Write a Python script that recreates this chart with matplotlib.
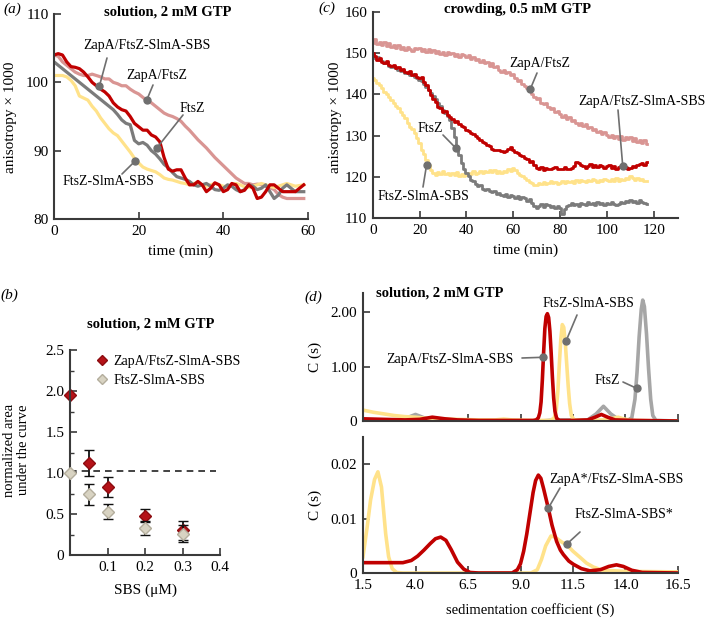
# Anisotropy kinetics, SBS titration and sedimentation velocity panels
import numpy as np
import matplotlib
matplotlib.use('Agg')
import matplotlib.pyplot as plt
from matplotlib.lines import Line2D

plt.rcParams['font.family'] = ['Liberation Serif', 'DejaVu Serif']
plt.rcParams['font.size'] = 11

# ---------------- data ----------------
# (a) solution, 2 mM GTP, anisotropy x 1000 every minute
t_a = np.arange(0, 60)
a_ftsz_sbs = [101, 101, 101, 100.8, 100.3, 99.5, 98, 97.7, 97.4, 96.5,
              95.8, 94.8, 94, 93.2, 92.6, 92.2, 91.4, 90.6, 89.8, 88.9,
              88.2, 87.6, 87.3, 87.1, 86.9, 86.5, 86, 85.8, 85.7, 85.5,
              85.3, 85.2, 85.0, 85.2, 85.3, 85, 84.8, 85, 85.2, 85,
              84.8, 84.7, 85, 85.2, 85, 84.7, 84.6, 84.8, 85, 85.2,
              85, 84.8, 84.6, 84.8, 85, 85.2, 85, 84.8, 84.9, 85]
a_ftsz = [103, 102.5, 102, 101.5, 101, 100.5, 100, 99.5, 99, 98.5,
          98, 97.5, 97, 96.5, 96, 95.3, 94.5, 94, 93.8, 91.5,
          91, 91.2, 90.8, 90, 89.5, 88.8, 88, 87.5, 86.8, 86.2,
          86, 85.8, 85.5, 85, 84.8, 85, 85.2, 84.8, 84.3, 84.2,
          84.5, 85, 84.8, 84.3, 84, 84.3, 85, 84.8, 84.3, 84.5,
          85, 84, 83, 83.5, 84.5, 85, 84.5, 84, 84, 84]
a_zapa_sbs = [104, 104.2, 104, 103, 102.3, 102.2, 102, 101.5, 100.8, 100,
              99.5, 99, 98.6, 98, 97, 96.4, 96, 95.8, 95, 94,
              93.5, 93, 93, 92.3, 92, 91.3, 89, 87.3, 87, 87.2,
              87.2, 86, 85, 85, 85.5, 85, 84, 84.5, 85.3, 85,
              84, 84.3, 85.2, 85, 84, 84.2, 85, 84.5, 83, 83.2,
              84, 85, 85, 84.5, 84, 84, 84, 84, 84.5, 85]
a_zapa = [104, 103.8, 103, 102.5, 102, 101.5, 101.2, 101, 101, 101.2,
          101, 100.8, 100.5, 100.5, 100, 99.8, 99.5, 99.5, 99, 98.6,
          98.3, 97.8, 97.3, 97, 96.5, 96, 95.5, 95.2, 95, 94.7,
          94.3, 93.6, 93, 92.3, 91.6, 91, 90.4, 89.7, 89, 88.4,
          87.8, 87.2, 86.6, 86, 85.6, 85.2, 85.2, 85, 85.1, 85,
          84.8, 84.6, 84.3, 83.6, 83.2, 83, 83, 83, 83, 83]

# (c) crowding, 0.5 mM GTP, anisotropy x 1000 every minute
t_c = np.arange(0, 118)
c_zapa = [152.5, 153.5, 152.2, 152.8, 152.0, 152.6, 151.8, 152.4, 151.5, 152.0,
          151.2, 151.9, 151.0, 151.6, 150.8, 151.5, 151.1, 150.6, 151.3, 150.9,
          151.2, 150.5, 151.0, 150.3, 150.9, 150.2, 150.7, 150.0, 150.6, 149.8,
          150.3, 149.6, 150.4, 149.8, 150.1, 149.3, 149.9, 149.1, 149.7, 149.5,
          149.0, 149.6, 148.7, 149.1, 148.3, 148.7, 147.9, 148.4, 147.5, 147.9,
          147.0, 147.5, 146.6, 146.9, 146.0, 145.4, 146.0, 145.1, 145.5, 144.6,
          144.9, 144.0, 143.2, 143.6, 142.5, 142.0, 141.6, 140.8, 140.0, 139.3,
          138.8, 139.1, 138.0, 137.6, 137.9, 137.0, 136.4, 136.8, 135.7, 135.9,
          135.2, 134.6, 135.0, 134.1, 134.4, 133.6, 133.9, 133.0, 132.6, 133.0,
          132.4, 132.8, 131.8, 132.2, 131.4, 131.7, 130.9, 131.2, 130.5, 130.8,
          130.1, 129.6, 130.2, 129.5, 130.0, 129.2, 129.8, 128.9, 129.6, 129.1,
          129.7, 128.8, 129.3, 128.5, 129.0, 128.3, 128.9, 128.0]
c_zapa_sbs = [150.0, 149.2, 148.4, 148.8, 147.9, 147.5, 148.0, 147.2, 146.8, 147.1,
              146.3, 146.7, 145.9, 146.2, 145.4, 145.1, 145.6, 144.6, 144.9, 144.2,
              143.9, 144.3, 143.0, 142.3, 141.0, 139.9, 139.0, 138.2, 137.0, 136.6,
              135.8, 135.9, 135.0, 134.5, 134.0, 133.4, 133.6, 132.7, 132.3, 132.0,
              131.4, 131.0, 130.6, 130.3, 129.8, 129.4, 129.0, 128.4, 128.2, 127.8,
              127.4, 126.8, 126.5, 126.4, 126.6, 126.2, 126.0, 126.3, 126.8, 127.2,
              126.5, 126.0, 125.8, 125.4, 125.0, 124.5, 124.2, 123.7, 123.9, 122.8,
              122.1, 121.8, 122.3, 121.7, 122.2, 122.0, 121.8, 122.1, 122.4, 121.9,
              122.0, 121.9, 122.3, 122.0, 121.8, 122.2, 122.6, 123.7, 123.3, 122.8,
              122.5, 122.2, 122.6, 123.0, 122.4, 122.9, 122.3, 122.8, 122.5, 122.1,
              122.5, 122.8, 122.2, 122.6, 122.0, 122.3, 122.7, 122.1, 122.4, 122.0,
              122.1, 122.6, 122.3, 122.9, 123.2, 123.3, 122.9, 123.5]
c_ftsz = [149.6, 148.8, 149.0, 148.3, 148.0, 147.5, 147.8, 147.0, 146.6, 146.9,
          146.3, 146.0, 145.7, 145.9, 145.3, 145.1, 144.8, 145.0, 144.3, 143.9,
          143.5, 143.2, 142.6, 141.9, 141.1, 140.3, 139.6, 138.8, 137.9, 137.2,
          136.3, 135.6, 134.7, 133.8, 131.9, 129.6, 127.0, 125.2, 123.3, 122.0,
          120.9, 120.1, 119.3, 118.9, 118.2, 117.7, 117.9, 117.0, 116.8, 117.1,
          116.5, 116.2, 116.6, 115.9, 116.1, 115.7, 115.4, 115.8, 115.2, 115.5,
          115.3, 114.9, 115.4, 114.6, 115.0, 114.8, 114.2, 114.5, 113.6, 113.0,
          112.4, 112.9, 113.4, 112.7, 113.3, 113.2, 112.6, 113.0, 112.5, 112.9,
          112.4, 111.0, 112.2, 112.8, 113.1, 113.6, 113.2, 113.5, 113.0, 113.7,
          113.5, 113.1, 113.8, 113.3, 113.6, 113.2, 113.9, 113.4, 113.7, 113.1,
          113.7, 113.3, 113.9, 113.5, 113.2, 113.5, 114.0, 113.6, 114.1, 113.8,
          114.4, 113.9, 114.2, 113.7, 114.3, 114.0, 113.6, 113.5]
c_ftsz_sbs = [143.9, 143.4, 142.8, 142.3, 141.5, 140.7, 140.2, 139.4, 138.7, 137.9,
              137.1, 136.6, 135.8, 135.0, 134.2, 133.0, 132.2, 131.5, 130.6, 129.4,
              128.2, 126.6, 125.5, 124.1, 122.8, 121.7, 121.0, 120.5, 121.2, 120.6,
              121.3, 120.7, 121.0, 120.4, 120.9, 120.5, 121.1, 120.3, 120.8, 120.2,
              120.5, 121.0, 120.6, 121.3, 120.8, 121.0, 121.5, 120.9, 121.4, 121.1,
              121.7, 121.2, 121.6, 121.0, 121.4, 121.0, 121.5, 121.1, 121.8, 121.4,
              122.1, 121.6, 121.0, 120.5, 120.1, 119.7, 119.2, 118.8, 118.4, 118.1,
              118.0, 118.5, 118.2, 118.7, 118.3, 118.5, 118.9, 118.4, 118.8, 118.3,
              118.5, 119.0, 118.6, 119.1, 118.7, 119.0, 118.6, 119.2, 118.8, 119.3,
              119.0, 118.7, 119.2, 118.9, 119.4, 119.2, 118.8, 119.3, 119.0, 119.5,
              119.3, 118.9, 119.4, 119.1, 119.6, 119.0, 119.5, 119.2, 119.8, 119.4,
              120.1, 119.6, 119.2, 119.7, 119.3, 119.5, 119.1, 119.0]

# (b) normalized area under the curve vs SBS
sbs = [0, 0.05, 0.1, 0.2, 0.3]
auc_zapa = [1.95, 1.12, 0.83, 0.48, 0.30]
err_zapa = [0.0, 0.16, 0.12, 0.08, 0.12]
auc_ftsz = [1.0, 0.74, 0.53, 0.33, 0.26]
err_ftsz = [0.0, 0.13, 0.09, 0.08, 0.10]

# (d) c(s) distributions, top: unlabelled, bottom: labelled species
s_red_top = [1.5, 2.5, 3.5, 4.2, 4.8, 5.4, 6.0, 7.0, 8.0, 9.0, 9.6, 9.75, 9.85, 9.92,
             9.98, 10.04, 10.10, 10.16, 10.22, 10.28, 10.34, 10.40, 10.46, 10.52, 10.58,
             10.64, 10.72, 10.85, 11.5, 12.2, 12.55, 12.85, 13.15, 13.5, 14.5, 16.5]
c_red_top = [0.04, 0.03, 0.02, 0.03, 0.07, 0.04, 0.02, 0.01, 0.01, 0.01, 0.01, 0.02, 0.06, 0.15,
             0.35, 0.75, 1.25, 1.70, 1.92, 1.97, 1.90, 1.65, 1.25, 0.80, 0.42,
             0.18, 0.05, 0.01, 0.01, 0.02, 0.07, 0.12, 0.07, 0.02, 0.01, 0.0]
s_yel_top = [1.5, 2.0, 2.5, 3.0, 3.5, 4.0, 4.5, 5.0, 6.0, 7.0, 7.8, 8.2, 8.6, 9.5, 10.4,
             10.6, 10.7, 10.78, 10.85, 10.92, 10.99, 11.06, 11.13, 11.2, 11.27, 11.34,
             11.42, 11.55, 12.0, 13.0, 13.4, 13.65, 13.9, 14.3, 16.5]
c_yel_top = [0.20, 0.16, 0.13, 0.10, 0.08, 0.07, 0.05, 0.04, 0.03, 0.02, 0.02, 0.035, 0.02, 0.01, 0.01,
             0.05, 0.20, 0.55, 1.05, 1.50, 1.77, 1.72, 1.45, 1.05, 0.65, 0.32,
             0.10, 0.02, 0.01, 0.02, 0.05, 0.07, 0.04, 0.01, 0.0]
s_gry_top = [1.5, 3.2, 3.6, 4.0, 4.4, 4.8, 6.0, 10.0, 10.6, 11.5, 12.2, 12.6, 12.95, 13.3,
             13.7, 14.1, 14.3, 14.45, 14.55, 14.65, 14.75, 14.82, 14.9, 15.0, 15.1, 15.2,
             15.3, 15.45, 16.5]
c_gry_top = [0.0, 0.01, 0.06, 0.12, 0.06, 0.01, 0.0, 0.0, 0.02, 0.02, 0.02, 0.13, 0.27, 0.13,
             0.02, 0.01, 0.06, 0.40, 0.90, 1.55, 2.05, 2.22, 2.10, 1.60, 0.95, 0.40,
             0.10, 0.01, 0.0]
s_yel_bot = [1.5, 1.7, 1.86, 2.05, 2.21, 2.38, 2.58, 2.72, 2.89, 3.1, 3.4, 9.5, 9.8, 10.0,
             10.2, 10.45, 10.65, 10.85, 11.0, 11.2, 11.5, 11.83, 12.15, 12.47, 12.9, 14.0, 16.5]
c_yel_bot = [0.0030, 0.0085, 0.0134, 0.0172, 0.0186, 0.0158, 0.0072, 0.0030, 0.0008, 0.0001, 0.0, 0.0, 0.0006, 0.0025,
             0.0050, 0.0068, 0.0066, 0.0060, 0.0056, 0.0052, 0.0040, 0.0029, 0.0018, 0.0011, 0.0005, 0.0003, 0.0002]
s_red_bot = [1.5, 3.4, 3.8, 4.1, 4.4, 4.7, 4.95, 5.2, 5.45, 5.7, 6.0, 6.3, 6.6, 7.0, 8.6,
             8.85, 9.0, 9.15, 9.3, 9.45, 9.6, 9.72, 9.85, 9.97, 10.1, 10.33, 10.5, 10.72,
             10.9, 11.04, 11.3, 11.52, 11.9, 12.3, 12.8, 13.2, 13.57, 13.9, 14.3, 14.8, 16.5]
c_red_bot = [0.0019, 0.0019, 0.0023, 0.0031, 0.0042, 0.0054, 0.0063, 0.0066, 0.0060, 0.0043, 0.0020, 0.0007, 0.0001, 0.0, 0.0,
             0.0006, 0.0017, 0.0040, 0.0072, 0.0110, 0.0148, 0.0170, 0.0180, 0.0174, 0.0155, 0.0118, 0.0088, 0.0058,
             0.0042, 0.0034, 0.0022, 0.0016, 0.0008, 0.0004, 0.0006, 0.0012, 0.0015, 0.0012, 0.0005, 0.0001, 0.0]

# annotation anchors on the curves (data units)
ann_a = [('ZapA/FtsZ-SlmA-SBS', (10.7, 99.4)), ('ZapA/FtsZ', (21.9, 97.4)),
         ('FtsZ', (24.3, 90.4)), ('FtsZ-SlmA-SBS', (19.2, 88.5))]
ann_c = [('ZapA/FtsZ', (67.2, 141.2)), ('ZapA/FtsZ-SlmA-SBS', (106.7, 122.7)),
         ('FtsZ', (35.6, 126.9)), ('FtsZ-SlmA-SBS', (23.0, 122.9))]
ann_dt = [('FtsZ-SlmA-SBS', (11.17, 1.47)), ('ZapA/FtsZ-SlmA-SBS', (10.09, 1.17)),
          ('FtsZ', (14.53, 0.60))]
ann_db = [('ZapA*/FtsZ-SlmA-SBS', (10.32, 0.0119)), ('FtsZ-SlmA-SBS*', (11.2, 0.0053))]

# ---------------- layout helpers ----------------
W, H = 708, 618
RED = '#c00000'
PINK = '#d99593'
YEL = '#ffe28a'
GRAY = '#7b7b7b'
GRAY_L = '#a6a6a6'
PTR = '#6f6f6f'
ANN_FS = 10

fig = plt.figure(figsize=(W / 100, H / 100), dpi=100)


def box(l, t, r, b):
    return [l / W, 1 - b / H, (r - l) / W, (b - t) / H]


def fp(x, y):
    return (x / W, 1 - y / H)


def style(ax):
    for s in ['top', 'right']:
        ax.spines[s].set_visible(False)
    for s in ['left', 'bottom']:
        ax.spines[s].set_linewidth(1.5)
        ax.spines[s].set_color('#3a3a3a')
    ax.tick_params(direction='in', length=5, width=1.2, color='#3a3a3a',
                   labelsize=11, pad=4)
    ax.tick_params(which='minor', direction='in', length=3, width=1.0, color='#3a3a3a')
    ax.patch.set_alpha(0)


def pointer(ax, anchor, start, text, tpos):
    ax.annotate('', xy=anchor, xycoords='data', xytext=fp(*start),
                textcoords='figure fraction',
                arrowprops=dict(arrowstyle='-', color=PTR, lw=1.2,
                                shrinkA=0, shrinkB=0), annotation_clip=False)
    ax.plot(*anchor, 'o', color=PTR, ms=5, zorder=6, clip_on=False)
    fig.text(*fp(*tpos), text, ha='center', va='center', fontsize=ANN_FS)


# ---------------- (a) ----------------
ax = fig.add_axes(box(54, 14, 308, 219))
style(ax)
ax.plot(t_a, a_zapa, color=PINK, lw=2.3)
ax.plot(t_a, a_ftsz_sbs, color=YEL, lw=2.3)
ax.plot(t_a, a_ftsz, color=GRAY, lw=2.3)
ax.plot(t_a, a_zapa_sbs, color=RED, lw=2.3)
ax.set_xlim(0, 60)
ax.set_ylim(80, 110)
ax.set_xticks([0, 20, 40, 60])
ax.set_yticks([80, 90, 100, 110])
starts = [(107, 58), (153, 85), (183, 115), (122, 174)]
tposs = [(147, 46), (157, 76), (192, 108), (108, 182)]
for (txt, anc), st, tp in zip(ann_a, starts, tposs):
    pointer(ax, anc, st, txt, tp)
fig.text(*fp(168, 12), 'solution, 2 mM GTP', ha='center', va='center',
         fontsize=10.5, fontweight='bold')
fig.text(*fp(181, 251), 'time (min)', ha='center', va='center', fontsize=11)
fig.text(*fp(11, 117), 'anisotropy × 1000', ha='center', va='center',
         rotation=90, fontsize=11)
fig.text(*fp(12, 9), '(a)', ha='center', va='center', fontsize=11, style='italic')

# ---------------- (c) ----------------
ax = fig.add_axes(box(372.7, 12, 678, 218))
style(ax)
ax.plot(t_c, c_zapa, color=PINK, lw=2.0, drawstyle='steps-mid')
ax.plot(t_c, c_ftsz_sbs, color=YEL, lw=2.0, drawstyle='steps-mid')
ax.plot(t_c, c_ftsz, color=GRAY, lw=2.0, drawstyle='steps-mid')
ax.plot(t_c, c_zapa_sbs, color=RED, lw=2.0, drawstyle='steps-mid')
ax.set_xlim(0, 130.3)
ax.set_ylim(110, 160)
ax.set_xticks([0, 20, 40, 60, 80, 100, 120])
ax.set_yticks([110, 120, 130, 140, 150, 160])
starts = [(537, 73), (618, 110), (443, 135), (423, 187)]
tposs = [(540, 63), (642, 102), (430, 128), (423, 197)]
for (txt, anc), st, tp in zip(ann_c, starts, tposs):
    pointer(ax, anc, st, txt, tp)
fig.text(*fp(518, 10), 'crowding, 0.5 mM GTP', ha='center', va='center',
         fontsize=10.5, fontweight='bold')
fig.text(*fp(526, 250), 'time (min)', ha='center', va='center', fontsize=11)
fig.text(*fp(336, 117), 'anisotropy × 1000', ha='center', va='center',
         rotation=90, fontsize=11)
fig.text(*fp(327, 8), '(c)', ha='center', va='center', fontsize=11, style='italic')

# ---------------- (b) ----------------
ax = fig.add_axes(box(70, 350, 220, 555))
style(ax)
ax.axhline(1.02, xmin=0, xmax=0.97, color='#222222', lw=1.2, ls=(0, (4, 3)))
ax.errorbar(sbs, auc_ftsz, yerr=err_ftsz, fmt='D', ms=6, mfc='#d8d3c2',
            mec='#b3ad9c', mew=1, ecolor='#111111', elinewidth=1.3, capsize=3.5,
            capthick=1.3, clip_on=False, zorder=3)
ax.errorbar(sbs, auc_zapa, yerr=err_zapa, fmt='D', ms=6, mfc='#b51218',
            mec='#8c0c10', mew=1, ecolor='#111111', elinewidth=1.3, capsize=3.5,
            capthick=1.3, clip_on=False, zorder=2)
ax.set_xlim(0, 0.4)
ax.set_ylim(0, 2.5)
ax.set_xticks([0.1, 0.2, 0.3, 0.4])
ax.set_xticklabels(['0.1', '0.2', '0.3', '0.4'])
ax.set_yticks([0, 0.5, 1.0, 1.5, 2.0, 2.5])
ax.set_yticklabels(['0', '0.5', '1.0', '1.5', '2.0', '2.5'])
ax.set_yticks(np.arange(0.25, 2.5, 0.5), minor=True)
handles = [Line2D([], [], ls='none', marker='D', ms=5, mfc='#b51218', mec='#8c0c10'),
           Line2D([], [], ls='none', marker='D', ms=5, mfc='#d8d3c2', mec='#b3ad9c')]
ax.legend(handles, ['ZapA/FtsZ-SlmA-SBS', 'FtsZ-SlmA-SBS'], loc='upper left',
          bbox_to_anchor=fp(95, 355), bbox_transform=fig.transFigure,
          frameon=False, fontsize=ANN_FS, handlelength=1.0, handletextpad=0.3,
          borderpad=0, borderaxespad=0, labelspacing=0.45)
fig.text(*fp(151, 324), 'solution, 2 mM GTP', ha='center', va='center',
         fontsize=10.5, fontweight='bold')
fig.text(*fp(145, 590), 'SBS (μM)', ha='center', va='center', fontsize=11)
fig.text(*fp(17, 450), 'normalized area\nunder the curve', ha='center',
         va='center', rotation=90, fontsize=10.5, linespacing=1.1)
fig.text(*fp(9, 295), '(b)', ha='center', va='center', fontsize=11, style='italic')

# ---------------- (d) ----------------
axt = fig.add_axes(box(363, 293, 678, 421))
style(axt)
axt.plot(s_gry_top, c_gry_top, color=GRAY_L, lw=2.6)
axt.plot(s_yel_top, c_yel_top, color=YEL, lw=2.6)
axt.plot(s_red_top, c_red_top, color=RED, lw=2.6)
axt.set_xlim(1.5, 16.5)
axt.set_ylim(0, 2.35)
axt.set_xticks(np.arange(1.5, 16.6, 2.5))
axt.set_xticklabels([])
axt.set_yticks([0, 1, 2])
axt.set_yticklabels(['0', '1.00', '2.00'])
starts = [(577, 315), (522, 358), (623, 382)]
tposs = [(588, 304), (450, 360), (607, 380)]
for (txt, anc), st, tp in zip(ann_dt, starts, tposs):
    pointer(axt, anc, st, txt, tp)

axb = fig.add_axes(box(363, 437, 678, 573))
style(axb)
axb.plot(s_yel_bot, c_yel_bot, color=YEL, lw=2.6)
axb.plot(s_red_bot, c_red_bot, color=RED, lw=2.6)
axb.set_xlim(1.5, 16.5)
axb.set_ylim(0, 0.025)
axb.set_xticks(np.arange(1.5, 16.6, 2.5))
axb.set_xticklabels(['%.1f' % v for v in np.arange(1.5, 16.6, 2.5)])
axb.set_yticks([0, 0.01, 0.02])
axb.set_yticklabels(['0', '0.01', '0.02'])
starts = [(560, 488), (580, 532)]
tposs = [(617, 479), (624, 515)]
for (txt, anc), st, tp in zip(ann_db, starts, tposs):
    pointer(axb, anc, st, txt, tp)

fig.text(*fp(440, 293), 'solution, 2 mM GTP', ha='center', va='center',
         fontsize=10.5, fontweight='bold')
fig.text(*fp(530, 610), 'sedimentation coefficient (S)', ha='center',
         va='center', fontsize=10.5)
fig.text(*fp(315, 357), 'C (s)', ha='center', va='center', rotation=90, fontsize=11)
fig.text(*fp(315, 505), 'C (s)', ha='center', va='center', rotation=90, fontsize=11)
fig.text(*fp(313, 297), '(d)', ha='center', va='center', fontsize=11, style='italic')

fig.savefig('out.png', dpi=100)
